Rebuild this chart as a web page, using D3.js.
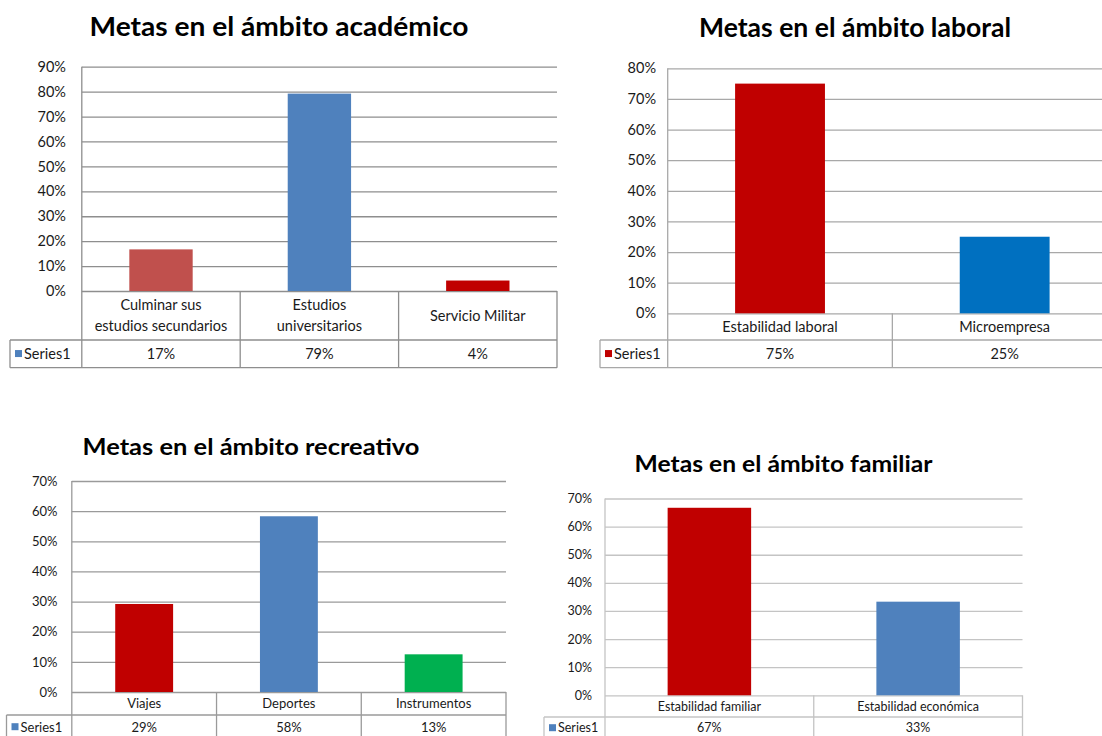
<!DOCTYPE html>
<html>
<head>
<meta charset="utf-8">
<script src="https://cdn.jsdelivr.net/npm/d3@7"></script>
<style>
  html, body { margin: 0; padding: 0; background: #fff; }
  svg { display: block; }
  text { font-family: Lato, "Noto Sans", sans-serif; fill: #1a1a1a; }
</style>
</head>
<body>
<svg id="chart" width="1102" height="736"></svg>
<script>
// ---------- DATA ----------
const seriesName = "Series1";

const academicTitle = "Metas en el ámbito académico";
const academicCategories = [["Culminar sus", "estudios secundarios"], ["Estudios", "universitarios"], ["Servicio Militar"]];
const academicValues = [0.167, 0.792, 0.042];
const academicMax = 0.9;

const laboralTitle = "Metas en el ámbito laboral";
const laboralCategories = [["Estabilidad laboral"], ["Microempresa"]];
const laboralValues = [0.75, 0.25];
const laboralMax = 0.8;

const recreativoTitle = "Metas en el ámbito recreativo";
const recreativoCategories = [["Viajes"], ["Deportes"], ["Instrumentos"]];
const recreativoValues = [0.292, 0.583, 0.125];
const recreativoMax = 0.7;

const familiarTitle = "Metas en el ámbito familiar";
const familiarCategories = [["Estabilidad familiar"], ["Estabilidad económica"]];
const familiarValues = [0.667, 0.333];
const familiarMax = 0.7;

// ---------- LAYOUT / STYLE ----------
const layouts = [
  { title: academicTitle, cats: academicCategories, vals: academicValues, yMax: academicMax,
    titleX: 279, titleY: 36, titleSize: 27, titleW: 379,
    left: 81.8, right: 557, topY: 66.7, zeroY: 291, catBottom: 340, serBottom: 367.7,
    serLeft: 10, labelRight: 66, tickSize: 14.5, catSize: 14.5, lh: 20.7,
    line: "#8e8e8e", barColors: ["#C0504D", "#4F81BD", "#C00000"], legendColor: "#4F81BD" },
  { title: laboralTitle, cats: laboralCategories, vals: laboralValues, yMax: laboralMax,
    titleX: 855, titleY: 37, titleSize: 27, titleW: 312,
    left: 667.7, right: 1117, topY: 68.3, zeroY: 313.3, catBottom: 340, serBottom: 367.7,
    serLeft: 600, labelRight: 656, tickSize: 14.5, catSize: 14.5, lh: 20,
    line: "#a8a8a8", barColors: ["#C00000", "#0070C0"], legendColor: "#C00000" },
  { title: recreativoTitle, cats: recreativoCategories, vals: recreativoValues, yMax: recreativoMax,
    titleX: 251, titleY: 455, titleSize: 23.5, titleW: 337,
    left: 71.8, right: 506, topY: 481, zeroY: 692, catBottom: 715, serBottom: 739,
    serLeft: 6.5, labelRight: 57.5, tickSize: 13, catSize: 13, lh: 18,
    line: "#9a9a9a", barColors: ["#C00000", "#4F81BD", "#00B050"], legendColor: "#4F81BD" },
  { title: familiarTitle, cats: familiarCategories, vals: familiarValues, yMax: familiarMax,
    titleX: 783.5, titleY: 471.7, titleSize: 22, titleW: 298,
    left: 605, right: 1022.5, topY: 498.5, zeroY: 695.3, catBottom: 717, serBottom: 739,
    serLeft: 544, labelRight: 592, tickSize: 12.5, catSize: 12.5, lh: 17,
    line: "#c4c4c4", barColors: ["#C00000", "#4F81BD"], legendColor: "#4F81BD" }
];

const svg = d3.select("#chart");
const pct = d3.format(".0%");

function drawChart(c) {
  const g = svg.append("g");
  const idx = d3.range(c.cats.length);
  const x = d3.scaleBand().domain(idx).range([c.left, c.right]).paddingInner(0).paddingOuter(0);
  const y = d3.scaleLinear().domain([0, c.yMax]).range([c.zeroY, c.topY]);
  const ticks = d3.range(0, Math.round(c.yMax * 10) + 1).map(k => k / 10);

  // Title
  g.append("text")
    .attr("x", c.titleX).attr("y", c.titleY)
    .attr("text-anchor", "middle")
    .attr("font-weight", "bold")
    .attr("font-size", c.titleSize)
    .attr("textLength", c.titleW)
    .attr("lengthAdjust", "spacingAndGlyphs")
    .style("fill", "#000")
    .text(c.title);

  // Y axis with gridlines
  const axis = d3.axisLeft(y)
    .tickValues(ticks)
    .tickFormat(d => pct(d))
    .tickSize(-(c.right - c.left))
    .tickPadding(c.left - c.labelRight);
  const ag = g.append("g").attr("transform", `translate(${c.left},0)`).call(axis);
  ag.select(".domain").remove();
  ag.selectAll(".tick line").attr("stroke", c.line).attr("stroke-width", 1.3);
  ag.selectAll(".tick text")
    .attr("font-size", c.tickSize)
    .attr("font-family", "Lato, 'Noto Sans', sans-serif")
    .style("fill", "#1a1a1a");

  // vertical axis line
  g.append("line")
    .attr("x1", c.left).attr("x2", c.left)
    .attr("y1", y(c.yMax)).attr("y2", c.serBottom)
    .attr("stroke", c.line).attr("stroke-width", 1.3);

  // Bars
  const bw = x.bandwidth() / 2.5;
  g.selectAll("rect.bar").data(c.vals).enter().append("rect")
    .attr("class", "bar")
    .attr("x", (d, i) => x(i) + (x.bandwidth() - bw) / 2)
    .attr("width", bw)
    .attr("y", d => y(d))
    .attr("height", d => y(0) - y(d))
    .attr("fill", (d, i) => c.barColors[i]);

  // Data table lines
  const tl = g.append("g").attr("stroke", c.line).attr("stroke-width", 1.3);
  tl.append("line").attr("x1", c.serLeft).attr("x2", c.right).attr("y1", c.catBottom).attr("y2", c.catBottom);
  tl.append("line").attr("x1", c.serLeft).attr("x2", c.right).attr("y1", c.serBottom).attr("y2", c.serBottom);
  tl.append("line").attr("x1", c.serLeft).attr("x2", c.serLeft).attr("y1", c.catBottom).attr("y2", c.serBottom);
  const bounds = idx.map(i => x(i) + x.bandwidth());
  tl.selectAll("line.sep").data(bounds).enter().append("line")
    .attr("class", "sep")
    .attr("x1", d => d).attr("x2", d => d)
    .attr("y1", c.zeroY).attr("y2", c.serBottom);

  // Category labels
  const catMid = (c.zeroY + c.catBottom) / 2;
  idx.forEach(i => {
    const lines = c.cats[i];
    const cx = x(i) + x.bandwidth() / 2;
    lines.forEach((ln, j) => {
      g.append("text")
        .attr("x", cx)
        .attr("y", catMid + (j - (lines.length - 1) / 2) * c.lh)
        .attr("dy", "0.35em")
        .attr("text-anchor", "middle")
        .attr("font-size", c.catSize)
        .text(ln);
    });
  });

  // Series row
  const serMid = (c.catBottom + Math.min(c.serBottom, c.catBottom + 27.7)) / 2;
  g.append("rect")
    .attr("x", c.serLeft + 5).attr("y", serMid - 3.8)
    .attr("width", 7).attr("height", 7)
    .attr("fill", c.legendColor);
  g.append("text")
    .attr("x", c.serLeft + 14).attr("y", serMid)
    .attr("dy", "0.35em")
    .attr("font-size", c.catSize)
    .text(seriesName);
  g.selectAll("text.val").data(c.vals).enter().append("text")
    .attr("class", "val")
    .attr("x", (d, i) => x(i) + x.bandwidth() / 2)
    .attr("y", serMid)
    .attr("dy", "0.35em")
    .attr("text-anchor", "middle")
    .attr("font-size", c.catSize)
    .text(d => pct(d));
}

layouts.forEach(drawChart);
</script>
</body>
</html>
